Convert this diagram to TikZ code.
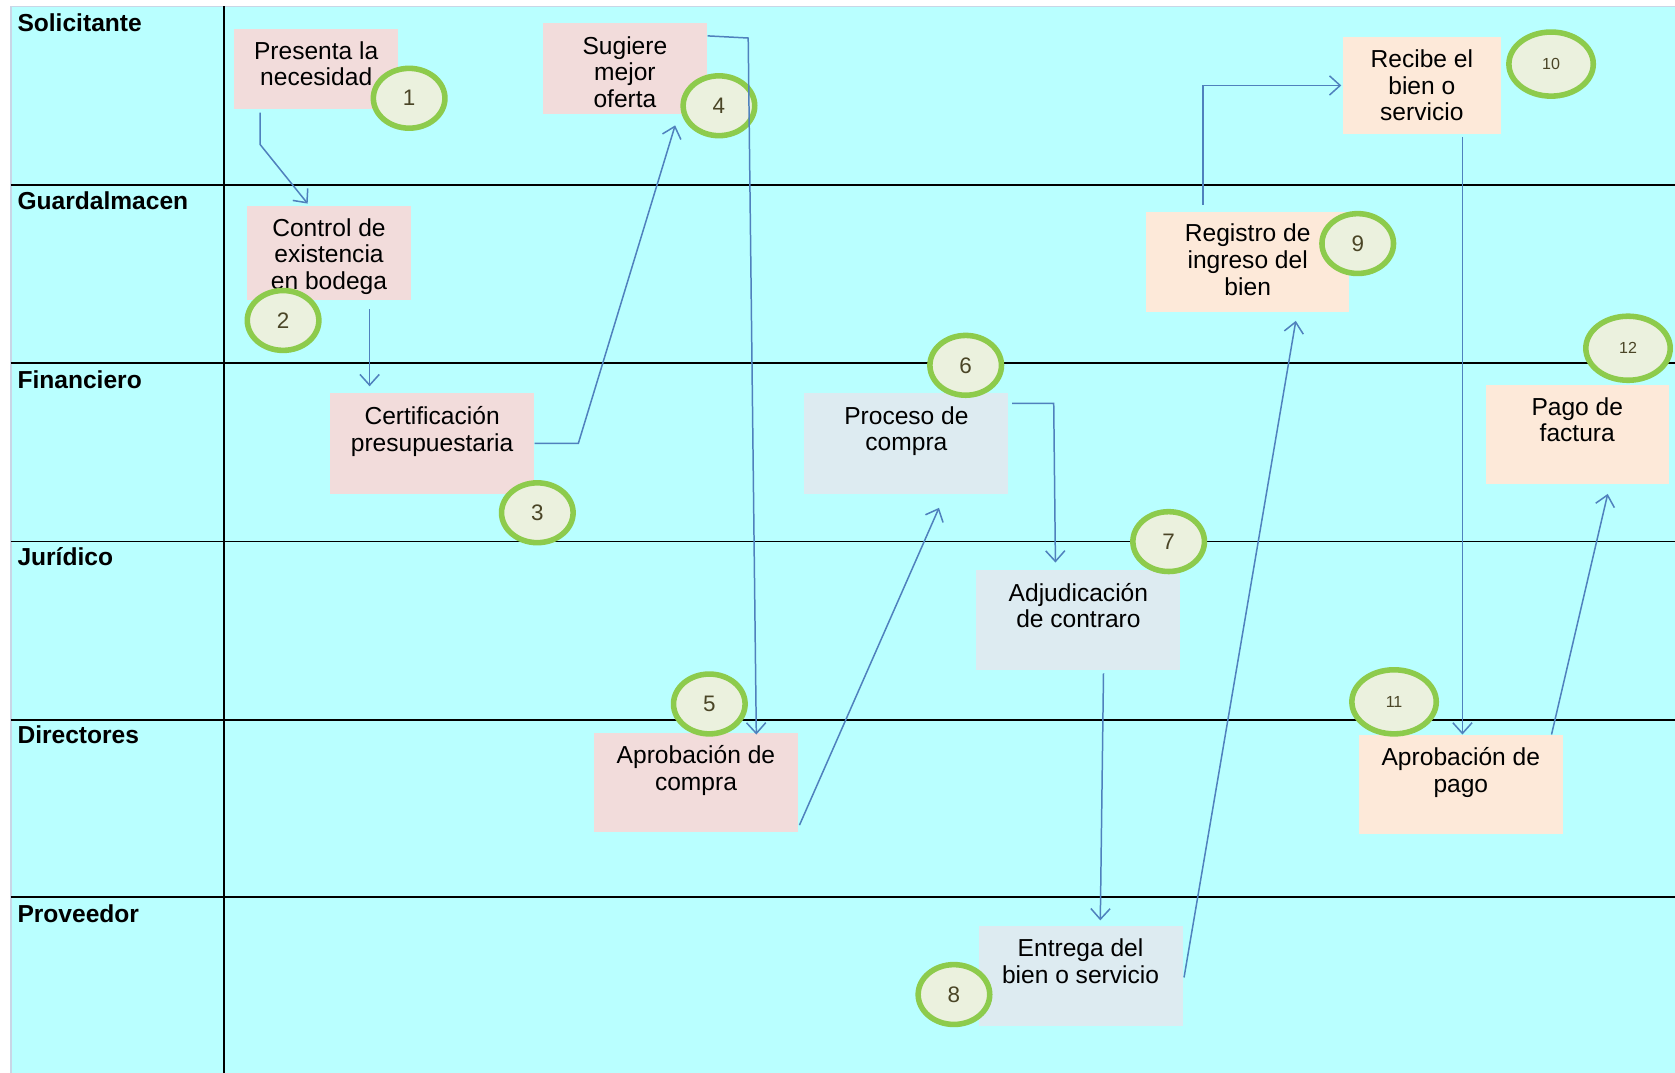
\documentclass[tikz,border=0pt]{standalone}
\usepackage{fontspec}
\setmainfont{Liberation Sans}
\usetikzlibrary{shapes.geometric,arrows.meta,calc}
\definecolor{lanebg}{HTML}{B9FFFF}
\definecolor{laneedge}{HTML}{C9D6E6}
\definecolor{pinkbox}{HTML}{F2DCDB}
\definecolor{bluebox}{HTML}{DDEBF1}
\definecolor{peachbox}{HTML}{FDE9D9}
\definecolor{ringgreen}{HTML}{8DCB4C}
\definecolor{ringfill}{HTML}{EBF1DE}
\definecolor{numtext}{HTML}{4A4526}
\definecolor{flowblue}{HTML}{4F81BD}

% spacer lines used to seat the text inside the step boxes
\newcommand{\tailline}{\\\rule[-1.25pt]{0pt}{2pt}}
\newcommand{\topgap}{\rule{0pt}{11.4pt}}

\begin{document}
\begin{tikzpicture}[x=0.5pt,y=-0.5pt,
  lane/.style={black, line width=0.8pt},
  lanelabel/.style={anchor=west, inner sep=0pt, font=\fontsize{11.5}{13}\selectfont\bfseries},
  stepbox/.style n args={3}{rectangle, fill=#1, minimum width=#2*0.5pt, minimum height=#3*0.5pt,
    inner sep=0pt, align=center, font=\fontsize{11.5}{12.5}\selectfont},
  ring/.style={ellipse, draw=ringgreen, fill=ringfill, line width=2.6pt, minimum width=33.5pt,
    minimum height=28pt, inner sep=0pt, text=numtext, font=\fontsize{10.5}{12}\selectfont},
  smallring/.style={ring, minimum width=39.5pt, minimum height=30pt, font=\fontsize{7.5}{9}\selectfont},
  flow/.style={flowblue, line width=0.7pt, -{Straight Barb[length=5pt,width=9pt]}}]

\useasboundingbox (0,0) rectangle (1568,1004);

% swimlane background and grid
\fill[lanebg] (10,6) rectangle (1568,1004);
\draw[laneedge, line width=0.8pt] (10,1004) -- (10,6) -- (1568,6);
\foreach \y in {173,340,507,674,840} \draw[lane] (10,\y) -- (1568,\y);
\draw[lane] (210,6) -- (210,1004);

% lane titles
\node[lanelabel] (lsol) at (16,21)  {Solicitante};
\node[lanelabel] (lgua) at (16,188) {Guardalmacen};
\node[lanelabel] (lfin) at (16,355) {Financiero};
\node[lanelabel] (ljur) at (16,521) {Jurídico};
\node[lanelabel] (ldir) at (16,688) {Directores};
\node[lanelabel] (lpro) at (16,855) {Proveedor};

% process steps
\node[stepbox={pinkbox}{154}{75}]  (n1)  at (296,64.5)    {Presenta la\\necesidad\rule[-5pt]{0pt}{5pt}};
\node[stepbox={pinkbox}{154}{88}]  (n2)  at (308,237)     {\topgap Control de\\existencia\\en bodega};
\node[stepbox={pinkbox}{191}{94}]  (n3)  at (404.5,415)   {Certificación\\presupuestaria\tailline};
\node[stepbox={pinkbox}{154}{85}]  (n4)  at (585,64.5)    {\topgap Sugiere\\mejor\\oferta};
\node[stepbox={pinkbox}{191}{93}]  (n5)  at (651.5,732.5) {Aprobación de\\compra\tailline};
\node[stepbox={bluebox}{191}{94}]  (n6)  at (848.5,415)   {Proceso de\\compra\tailline};
\node[stepbox={bluebox}{191}{93}]  (n7)  at (1009.5,580.5){Adjudicación\\de contraro\tailline};
\node[stepbox={bluebox}{191}{93}]  (n8)  at (1011.5,913.5){Entrega del\\bien o servicio\tailline};
\node[stepbox={peachbox}{190}{94}] (n9)  at (1168,245)    {Registro de\\ingreso del\\bien\rule[-2pt]{0pt}{2pt}};
\node[stepbox={peachbox}{148}{90}] (n10) at (1331,80)     {Recibe el\\bien o\\servicio};
\node[stepbox={peachbox}{191}{93}] (n11) at (1367.5,734.5){Aprobación de\\pago\tailline};
\node[stepbox={peachbox}{171}{93}] (n12) at (1476.5,406.5){Pago de\\factura\tailline};

% step numbers
\node[ring] (c1) at (383,92)   {1};
\node[ring] (c2) at (265,300)  {2};
\node[ring] (c3) at (503,480)  {3};
\node[ring] (c4) at (673,99)   {4};
\node[ring] (c5) at (664,659)  {5};
\node[ring] (c6) at (904,342)  {6};
\node[ring] (c7) at (1094,507) {7};
\node[ring] (c8) at (893,931)  {8};
\node[ring] (c9) at (1271,228) {9};
\node[smallring] (c10) at (1452,60)  {10};
\node[smallring] (c11) at (1305,657) {11};
\node[smallring] (c12) at (1524,326) {12};

% flow connectors
\draw[flow] ($(n1.south west)+(25,3)$) -- ++(0,30) -- ($(n2.north)+(-20,-2)$);
\draw[flow] ($(n2.south)+(38,8)$) -- ($(n3.north)+(-58.5,-6)$);
\draw[flow] (n3.east) -- ++(41,0) -- ($(n4.south)+(47,10)$);
\draw[flow] ($(n4.north east)+(0,12)$) -- ++(38,2) -- ($(n5.north)+(56.5,2)$);
\draw[flow] ($(n5.south east)+(1,-7)$) -- ($(n6.south)+(30.5,13)$);
\draw[flow] ($(n6.north east)+(3,10)$) -- ++(39,0) -- ($(n7.north)+(-21.5,-7)$);
\draw[flow] ($(n7.south)+(23.5,3)$) -- ($(n8.north)+(18.5,-5)$);
\draw[flow] ($(n8.east)+(1,1.5)$) -- ($(n9.south)+(45,8)$);
\draw[flow] ($(n9.north)+(-42,-6)$) |- ($(n10.west)+(-1,0)$);
\draw[flow] ($(n10.south)+(38,3)$) -- ($(n11.north)+(1.5,0)$);
\draw[flow] ($(n11.north east)+(-11,0)$) -- ($(n12.south)+(28.5,9)$);
\end{tikzpicture}
\end{document}
